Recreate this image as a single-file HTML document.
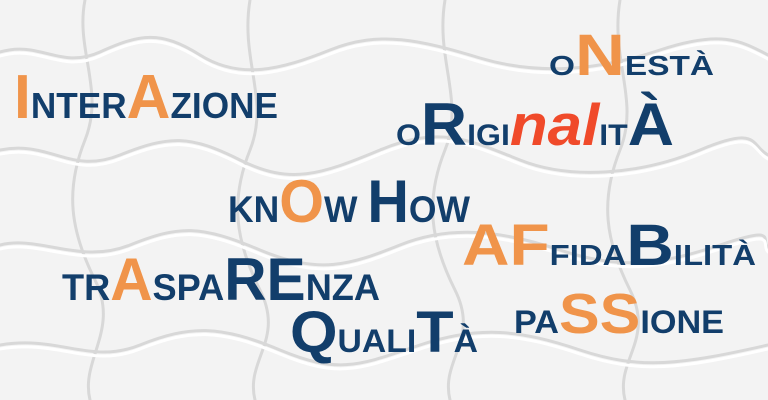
<!DOCTYPE html>
<html><head><meta charset="utf-8"><style>
html,body{margin:0;padding:0;background:#f3f3f3}
svg{display:block}
text{font-family:"Liberation Sans",Arial,sans-serif;font-weight:bold}
.n{fill:#123e6b}.o{fill:#f0944a}.r{fill:#f04a2a}
</style></head><body>
<svg width="768" height="400" viewBox="0 0 768 400">
<rect width="768" height="400" fill="#f3f3f3"/>
<g fill="none" stroke-width="3" stroke-linecap="round">
 <g stroke="#d8d8d8">
  <path d="M0 52 C40 40 60 70 100 52 S160 30 200 55 S280 70 330 50 S420 40 480 58 S600 70 660 50 S740 40 768 55"/>
  <path d="M0 150 C50 140 70 175 120 155 S190 135 240 160 S320 175 380 150 S470 140 520 160 S640 175 700 150 S750 145 768 155"/>
  <path d="M0 245 C40 235 80 265 130 245 S200 225 260 250 S350 265 400 245 S500 230 560 250 S660 265 720 245 S760 240 768 248"/>
  <path d="M0 345 C60 335 90 365 140 345 S220 325 280 350 S360 365 420 345 S520 330 580 350 S680 365 768 345"/>
  <path d="M85 0 C75 50 105 90 85 140 S70 230 95 280 S80 360 90 400"/>
  <path d="M250 0 C240 60 270 100 250 150 S235 240 260 290 S245 360 255 400"/>
  <path d="M445 0 C435 60 465 100 445 150 S430 240 455 290 S440 360 450 400"/>
  <path d="M620 0 C610 60 640 100 620 150 S605 240 630 290 S615 360 625 400"/>
 </g>
 <g stroke="#ffffff" transform="translate(0,4)">
  <path d="M0 52 C40 40 60 70 100 52 S160 30 200 55 S280 70 330 50 S420 40 480 58 S600 70 660 50 S740 40 768 55"/>
  <path d="M0 150 C50 140 70 175 120 155 S190 135 240 160 S320 175 380 150 S470 140 520 160 S640 175 700 150 S750 145 768 155"/>
  <path d="M0 245 C40 235 80 265 130 245 S200 225 260 250 S350 265 400 245 S500 230 560 250 S660 265 720 245 S760 240 768 248"/>
  <path d="M0 345 C60 335 90 365 140 345 S220 325 280 350 S360 365 420 345 S520 330 580 350 S680 365 768 345"/>
 </g>
</g>

<text x="14" y="118" textLength="264" lengthAdjust="spacingAndGlyphs"><tspan class="o" font-size="62">I</tspan><tspan class="n" font-size="36">NTER</tspan><tspan class="o" font-size="62">A</tspan><tspan class="n" font-size="36">ZIONE</tspan></text>

<text x="549" y="75" textLength="165" lengthAdjust="spacingAndGlyphs"><tspan class="n" font-size="28">O</tspan><tspan class="o" font-size="58">N</tspan><tspan class="n" font-size="28">ESTÀ</tspan></text>

<text x="396" y="145" textLength="278" lengthAdjust="spacingAndGlyphs"><tspan class="n" font-size="30">O</tspan><tspan class="n" font-size="60">R</tspan><tspan class="n" font-size="30">IGI</tspan><tspan class="r" font-size="58" font-style="italic">nal</tspan><tspan class="n" font-size="30">IT</tspan><tspan class="n" font-size="60">À</tspan></text>

<text x="228" y="222" textLength="242" lengthAdjust="spacingAndGlyphs"><tspan class="n" font-size="37">KN</tspan><tspan class="o" font-size="60">O</tspan><tspan class="n" font-size="37">W </tspan><tspan class="n" font-size="60">H</tspan><tspan class="n" font-size="37">OW</tspan></text>

<text x="462" y="265" textLength="294" lengthAdjust="spacingAndGlyphs"><tspan class="o" font-size="58">AF</tspan><tspan class="n" font-size="29">FIDA</tspan><tspan class="n" font-size="58">B</tspan><tspan class="n" font-size="29">ILITÀ</tspan></text>

<text x="62" y="300" textLength="318" lengthAdjust="spacingAndGlyphs"><tspan class="n" font-size="37">TR</tspan><tspan class="o" font-size="60">A</tspan><tspan class="n" font-size="37">SPA</tspan><tspan class="n" font-size="60">RE</tspan><tspan class="n" font-size="37">NZA</tspan></text>

<text x="514" y="333" textLength="210" lengthAdjust="spacingAndGlyphs"><tspan class="n" font-size="32">PA</tspan><tspan class="o" font-size="57">SS</tspan><tspan class="n" font-size="32">IONE</tspan></text>

<text x="290" y="352" textLength="188" lengthAdjust="spacingAndGlyphs"><tspan class="n" font-size="58">Q</tspan><tspan class="n" font-size="32">UALI</tspan><tspan class="n" font-size="58">T</tspan><tspan class="n" font-size="32">À</tspan></text>
</svg>
</body></html>
